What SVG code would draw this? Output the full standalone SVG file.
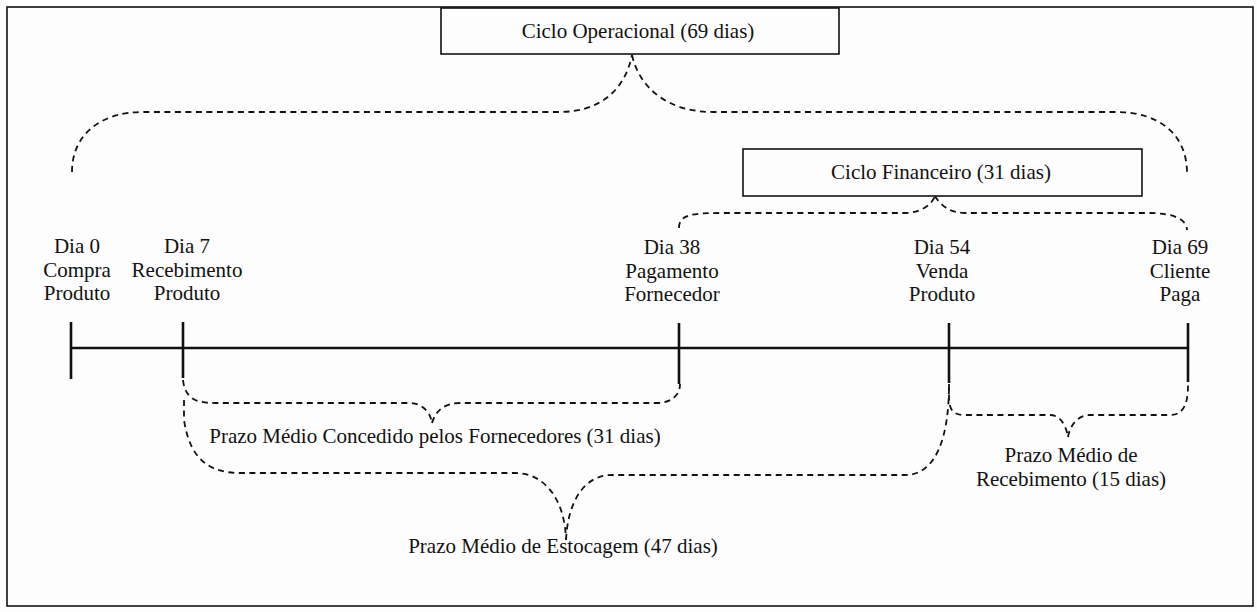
<svg xmlns="http://www.w3.org/2000/svg" width="1257" height="612" viewBox="0 0 1257 612">
<style>
  text { font-family: "Liberation Serif", "Times New Roman", serif; font-size: 21px; fill: #111; text-anchor: middle; }
  .box { fill: #fdfdfd; stroke: #111; stroke-width: 1.6; }
  .brace { fill: none; stroke: #111; stroke-width: 1.8; stroke-dasharray: 6 4.5; }
  .axis { fill: none; stroke: #111; stroke-width: 2.6; }
</style>
<rect x="0" y="0" width="1257" height="612" fill="#fdfdfd"/>
<rect x="7" y="7" width="1246" height="599" fill="none" stroke="#111" stroke-width="1.6"/>

<g id="connectors">
  <path class="axis" d="M71 348 H1188 M71 322 V379 M183 322 V378 M679 323 V384 M949 323 V383 M1188 323 V382"/>
  <path class="brace" d="M72 172 C72 135 100 112 143 112 H559 C600 112 625 90 632 55 M632 55 C640 90 670 112 713 112 H1116 C1160 112 1187 135 1187 173"/>
  <path class="brace" d="M679 228 C679 215 690 213 722 213 H905 C920 213 932 205 935 196 M935 196 C940 205 950 213 965 213 H1148 C1175 213 1187 220 1187 230"/>
  <path class="brace" d="M183 380 C185 398 195 403 215 403 H410 C420 403 430 410 432 423 M432 423 C436 410 445 403 460 403 H656 C672 403 680 395 680 384"/>
  <path class="brace" d="M184 400 V420 C190 460 210 473 240 473 H515 C545 473 565 500 566 540 M566 540 C568 500 585 475 612 475 H905 C935 475 949 440 949 384"/>
  <path class="brace" d="M949 384 V400 C950 412 955 415 965 415 H1050 C1060 415 1066 425 1068 437 M1068 437 C1070 425 1078 415 1090 415 H1170 C1183 415 1188 405 1188 385"/>
</g>

<g id="ciclo-operacional">
  <rect class="box" x="441" y="8" width="398" height="46"/>
  <text x="638" y="38">Ciclo Operacional (69 dias)</text>
</g>
<g id="ciclo-financeiro">
  <rect class="box" x="743" y="149" width="399" height="47"/>
  <text x="941" y="179">Ciclo Financeiro (31 dias)</text>
</g>

<g id="dia-0">
  <text x="77" y="253">Dia 0</text>
  <text x="77" y="277">Compra</text>
  <text x="77" y="300">Produto</text>
</g>
<g id="dia-7">
  <text x="187" y="253">Dia 7</text>
  <text x="187" y="277">Recebimento</text>
  <text x="187" y="300">Produto</text>
</g>
<g id="dia-38">
  <text x="672" y="254">Dia 38</text>
  <text x="672" y="278">Pagamento</text>
  <text x="672" y="301">Fornecedor</text>
</g>
<g id="dia-54">
  <text x="942" y="254">Dia 54</text>
  <text x="942" y="278">Venda</text>
  <text x="942" y="301">Produto</text>
</g>
<g id="dia-69">
  <text x="1180" y="254">Dia 69</text>
  <text x="1180" y="278">Cliente</text>
  <text x="1180" y="301">Paga</text>
</g>

<g id="prazo-fornecedores">
  <text x="435" y="443">Prazo Médio Concedido pelos Fornecedores (31 dias)</text>
</g>
<g id="prazo-estocagem">
  <text x="563" y="553">Prazo Médio de Estocagem (47 dias)</text>
</g>
<g id="prazo-recebimento">
  <text x="1071" y="462">Prazo Médio de</text>
  <text x="1071" y="486">Recebimento (15 dias)</text>
</g>
</svg>
